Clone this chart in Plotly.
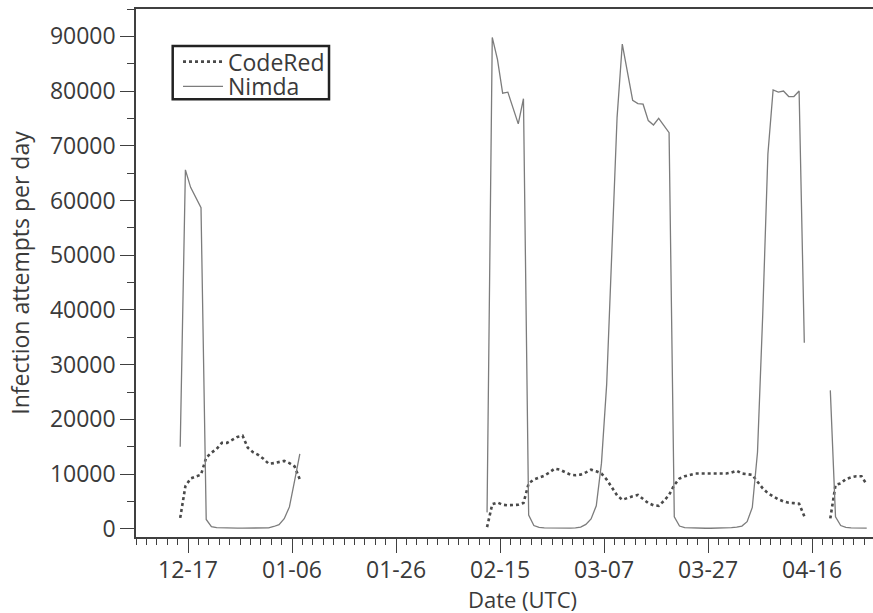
import pandas as pd
import plotly.graph_objects as go

# Daily observations (plotted at mid-day), three observation periods
seg1_start = "2001-12-15 12:00"
seg2_start = "2002-02-12 12:00"
seg3_start = "2002-04-19 12:00"

nimda_seg1 = [15000, 65600, 62400, 60500, 58700, 1700, 400, 200, 150, 130, 120, 120,
              120, 120, 120, 120, 130, 170, 420, 750, 1850, 4000, 8800, 13700]
codered_seg1 = [2000, 7800, 9200, 9500, 9900, 13000, 13900, 14600, 15700, 15700, 16300, 16800,
                17000, 14800, 14000, 13500, 12800, 11900, 12000, 12200, 12400, 12000, 11400, 9000]

nimda_seg2 = [3000, 89800, 85800, 79600, 79800, 76900, 74000, 78600, 2500, 600,
              250, 150, 120, 110, 100, 100, 120, 150, 300, 800,
              1800, 4200, 12000, 26400, 52300, 75200, 88600, 83500, 78300, 77700,
              77600, 74600, 73800, 75000, 73700, 72400, 2200, 500, 200, 150,
              120, 110, 100, 100, 100, 120, 150, 200, 300, 500,
              1300, 3900, 14000, 39000, 68500, 80200, 79800, 80000, 79000, 79000,
              80000, 34000]
codered_seg2 = [300, 4500, 4800, 4400, 4300, 4400, 4400, 4700, 8300, 9000,
                9400, 9700, 10300, 11000, 10800, 10300, 9900, 9800, 9900, 10300,
                10800, 10500, 10100, 9000, 7600, 6100, 5300, 5700, 5950, 6200,
                5500, 4700, 4300, 4200, 5100, 6200, 8000, 9200, 9600, 9900,
                10100, 10100, 10100, 10100, 10000, 10000, 10100, 10300, 10600, 10100,
                10000, 9850, 8600, 7400, 6500, 5900, 5400, 5000, 4750, 4700,
                4600, 2300]

nimda_seg3 = [25300, 2200, 600, 250, 180, 150, 130, 130]
codered_seg3 = [1900, 8000, 8300, 9100, 9400, 9600, 9600, 8100]

segments = [
    (seg1_start, nimda_seg1, codered_seg1),
    (seg2_start, nimda_seg2, codered_seg2),
    (seg3_start, nimda_seg3, codered_seg3),
]

x, y_nimda, y_codered = [], [], []
for i, (start, nv, cv) in enumerate(segments):
    if i > 0:
        x.append(None)
        y_nimda.append(None)
        y_codered.append(None)
    dates = pd.date_range(start, periods=len(nv), freq="D")
    x += [d.strftime("%Y-%m-%d %H:%M") for d in dates]
    y_nimda += nv
    y_codered += cv

FONT = "Open Sans, Noto Sans, sans-serif"
TXT = "#3a3a3a"
AX = "#404040"
DAY = 86400000

fig = go.Figure()
fig.add_trace(go.Scatter(x=x, y=y_codered, name="CodeRed", mode="lines",
                         line=dict(color="#4a4a4a", width=2.6, dash="dot"),
                         connectgaps=False, legend="legend"))
fig.add_trace(go.Scatter(x=x, y=y_nimda, name="Nimda", mode="lines",
                         line=dict(color="#7c7c7c", width=1.3),
                         connectgaps=False, legend="legend2"))

leg_common = dict(xanchor="left", yanchor="top", bgcolor="rgba(0,0,0,0)",
                  borderwidth=0, font=dict(size=23, color=TXT), itemwidth=40)

fig.update_layout(
    width=873, height=613,
    margin=dict(l=136, r=0, t=9, b=76, autoexpand=False),
    paper_bgcolor="white", plot_bgcolor="white",
    font=dict(family=FONT, size=23, color=TXT),
    showlegend=True,
    legend=dict(x=0.057, y=0.941, **leg_common),
    legend2=dict(x=0.057, y=0.894, **leg_common),
    shapes=[dict(type="rect", xref="paper", yref="paper",
                 x0=0.0498, x1=0.2619, y0=0.829, y1=0.930,
                 line=dict(color="#222222", width=2.5), fillcolor="rgba(0,0,0,0)",
                 layer="above")],
    xaxis=dict(
        type="date", range=["2001-12-07", "2002-04-27 17:00"], automargin=False,
        tick0="2001-12-17", dtick=20 * DAY, tickformat="%m-%d",
        ticks="outside", ticklen=14, tickwidth=1.2, tickcolor=AX,
        ticklabelstandoff=-2,
        showline=True, linecolor=AX, linewidth=1.5, mirror=True,
        showgrid=False, zeroline=False,
        tickfont=dict(size=23, color=TXT),
        minor=dict(tick0="2001-12-07", dtick=2 * DAY, ticks="outside",
                   ticklen=6, tickwidth=1.2, tickcolor=AX, showgrid=False),
    ),
    yaxis=dict(
        range=[-1500, 95000], tick0=0, dtick=10000, tickformat="d", automargin=False,
        ticks="outside", ticklen=14, tickwidth=1.2, tickcolor=AX,
        showline=True, linecolor=AX, linewidth=1.5,
        showgrid=False, zeroline=False,
        tickfont=dict(size=23, color=TXT),
        title=dict(text="Infection attempts per day", font=dict(size=23, color=TXT), standoff=14),
        minor=dict(dtick=5000, ticks="outside", ticklen=7, tickwidth=1.2,
                   tickcolor=AX, showgrid=False),
    ),
    annotations=[dict(text="Date (UTC)", xref="paper", yref="paper",
                      x=0.524, y=-0.1175, xanchor="center", yanchor="middle",
                      showarrow=False, font=dict(size=22, color=TXT))],
)

fig.write_html("out.html", config={"displayModeBar": False},
               post_script="document.body.style.margin='0';document.body.style.overflow='hidden';")
